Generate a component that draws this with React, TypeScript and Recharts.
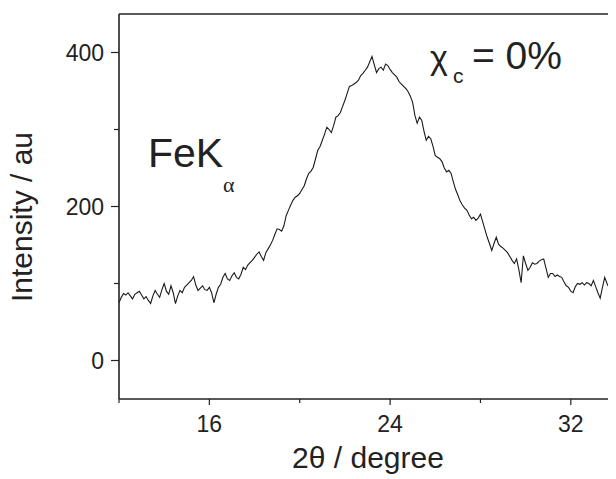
import React from "react";
import { LineChart, Line, XAxis, YAxis, ReferenceLine } from "recharts";

const theta: number[] = [
  12.0, 12.1, 12.2, 12.3, 12.4, 12.5, 12.6, 12.7, 12.8, 12.9,
  13.0, 13.1, 13.2, 13.3, 13.4, 13.5, 13.6, 13.7, 13.8, 13.9,
  14.0, 14.1, 14.2, 14.3, 14.4, 14.5, 14.6, 14.7, 14.8, 14.9,
  15.0, 15.1, 15.2, 15.3, 15.4, 15.5, 15.6, 15.7, 15.8, 15.9,
  16.0, 16.1, 16.2, 16.3, 16.4, 16.5, 16.6, 16.7, 16.8, 16.9,
  17.0, 17.1, 17.2, 17.3, 17.4, 17.5, 17.6, 17.7, 17.8, 17.9,
  18.0, 18.1, 18.2, 18.3, 18.4, 18.5, 18.6, 18.7, 18.8, 18.9,
  19.0, 19.1, 19.2, 19.3, 19.4, 19.5, 19.6, 19.7, 19.8, 19.9,
  20.0, 20.1, 20.2, 20.3, 20.4, 20.5, 20.6, 20.7, 20.8, 20.9,
  21.0, 21.1, 21.2, 21.3, 21.4, 21.5, 21.6, 21.7, 21.8, 21.9,
  22.0, 22.1, 22.2, 22.3, 22.4, 22.5, 22.6, 22.7, 22.8, 22.9,
  23.0, 23.1, 23.2, 23.3, 23.4, 23.5, 23.6, 23.7, 23.8, 23.9,
  24.0, 24.1, 24.2, 24.3, 24.4, 24.5, 24.6, 24.7, 24.8, 24.9,
  25.0, 25.1, 25.2, 25.3, 25.4, 25.5, 25.6, 25.7, 25.8, 25.9,
  26.0, 26.1, 26.2, 26.3, 26.4, 26.5, 26.6, 26.7, 26.8, 26.9,
  27.0, 27.1, 27.2, 27.3, 27.4, 27.5, 27.6, 27.7, 27.8, 27.9,
  28.0, 28.1, 28.2, 28.3, 28.4, 28.5, 28.6, 28.7, 28.8, 28.9,
  29.0, 29.1, 29.2, 29.3, 29.4, 29.5, 29.6, 29.7, 29.8, 29.9,
  30.0, 30.1, 30.2, 30.3, 30.4, 30.5, 30.6, 30.7, 30.8, 30.9,
  31.0, 31.1, 31.2, 31.3, 31.4, 31.5, 31.6, 31.7, 31.8, 31.9,
  32.0, 32.1, 32.2, 32.3, 32.4, 32.5, 32.6, 32.7, 32.8, 32.9,
  33.0, 33.1, 33.2, 33.3, 33.4, 33.5, 33.6, 33.7, 33.8, 33.9,
  34.0,
];

const intensity: number[] = [
  75, 82, 87, 85, 88, 84, 80, 86, 88, 90,
  85, 80, 83, 78, 74, 84, 91, 86, 82, 92,
  100, 90, 86, 97, 88, 74, 84, 91, 88, 95,
  98, 101, 104, 109, 98, 91, 94, 97, 92, 91,
  95, 88, 75, 86, 95, 99, 108, 113, 106, 104,
  110, 114, 108, 106, 112, 121, 118, 124, 127, 130,
  134, 138, 141, 135, 130, 140, 145, 150, 156, 164,
  171, 170, 168, 175, 188, 195, 202, 208, 212, 214,
  217, 222, 227, 236, 243, 246, 251, 262, 273, 278,
  286, 294, 303, 300, 296, 305, 316, 318, 322, 330,
  338, 347, 356, 357, 359, 361, 364, 370, 373, 377,
  381, 388, 395, 384, 374, 379, 381, 377, 385, 383,
  378, 374, 371, 368, 362, 359, 356, 353, 349, 343,
  335, 318, 308, 316, 312, 298, 286, 291, 288, 278,
  266, 264, 262, 258, 250, 245, 247, 243, 232, 222,
  215, 207, 202, 198, 195, 189, 184, 186, 182, 185,
  190, 180, 170, 160, 152, 143, 152, 160, 151, 148,
  146, 143, 140, 135, 130, 126, 132, 118, 101, 136,
  126, 117, 121, 127, 125, 126, 129, 131, 132, 120,
  108, 113, 113, 109, 111, 109, 108, 102, 97, 95,
  90, 88, 96, 100, 99, 101, 98, 101, 100, 97,
  104, 96, 88, 81, 95, 108, 100, 94, 91, 86,
  84,
];

const xTicks: number[] = [12, 16, 20, 24, 28, 32];
const xLabelled: number[] = [16, 24, 32];
const yTicks: number[] = [0, 100, 200, 300, 400];
const yLabelled: number[] = [0, 200, 400];

const xTitle = "2θ / degree";
const yTitle = "Intensity / au";

const data = theta.map((t, i) => ({ x: t, y: intensity[i] }));

const FONT = '"Liberation Sans", Arial, Helvetica, sans-serif';
const INK = "#222";

const XTick = (props: any) => {
  const { x, y, payload } = props;
  const major = xLabelled.includes(payload.value);
  return (
    <g>
      <line x1={x} x2={x} y1={y} y2={y + (major ? 6 : 4)} stroke={INK} strokeWidth={1.2} />
      {major && (
        <text x={x} y={y + 33} textAnchor="middle" fontSize={23} fill={INK} fontFamily={FONT}>
          {payload.value}
        </text>
      )}
    </g>
  );
};

const YTick = (props: any) => {
  const { x, y, payload } = props;
  const major = yLabelled.includes(payload.value);
  return (
    <g>
      <line x1={x} x2={x - (major ? 8 : 5)} y1={y} y2={y} stroke={INK} strokeWidth={1.2} />
      {major && (
        <text x={x - 15} y={y + 8} textAnchor="end" fontSize={23} fill={INK} fontFamily={FONT}>
          {payload.value}
        </text>
      )}
    </g>
  );
};

export default function App() {
  return (
    <div style={{ position: "relative", width: 608, height: 471 }}>
      <LineChart
        width={608}
        height={471}
        data={data}
        margin={{ top: 6, right: 0, bottom: 0, left: 0 }}
      >
        <XAxis
          dataKey="x"
          type="number"
          domain={[12, 34]}
          ticks={xTicks}
          allowDataOverflow
          height={80}
          tickSize={0}
          tickMargin={0}
          tickLine={false}
          tick={<XTick />}
          axisLine={{ stroke: INK, strokeWidth: 1.6 }}
        />
        <YAxis
          type="number"
          domain={[-50, 450]}
          ticks={yTicks}
          allowDataOverflow
          width={111}
          tickSize={0}
          tickMargin={0}
          tickLine={false}
          tick={<YTick />}
          axisLine={{ stroke: INK, strokeWidth: 1.6 }}
        />
        <ReferenceLine y={450} stroke={INK} strokeWidth={1.6} />
        <Line
          type="linear"
          dataKey="y"
          stroke="#1a1a1a"
          strokeWidth={1.1}
          dot={false}
          isAnimationActive={false}
        />
      </LineChart>
      <svg
        width={608}
        height={471}
        style={{ position: "absolute", left: 0, top: 0, pointerEvents: "none" }}
      >
        <text
          transform="translate(24,209) rotate(-90)"
          textAnchor="middle"
          fontSize={30}
          fill={INK}
          fontFamily={FONT}
        >
          {yTitle}
        </text>
        <text x={360} y={460} textAnchor="middle" fontSize={30} fill={INK} fontFamily={FONT}>
          {xTitle}
        </text>
        <text x={140} y={159} fontSize={41} fill={INK} fontFamily={FONT}>
          FeK
        </text>
        <text x={215} y={184} fontSize={22} fill={INK} fontFamily={'"Liberation Serif", "Times New Roman", serif'}>
          α
        </text>
        <text x={422} y={61} fontSize={34} fill={INK} fontFamily={FONT}>
          χ
        </text>
        <text x={445} y={75} fontSize={21} fill={INK} fontFamily={FONT}>
          c
        </text>
        <text x={464} y={61} fontSize={39} fill={INK} fontFamily={FONT}>
          = 0%
        </text>
      </svg>
    </div>
  );
}
